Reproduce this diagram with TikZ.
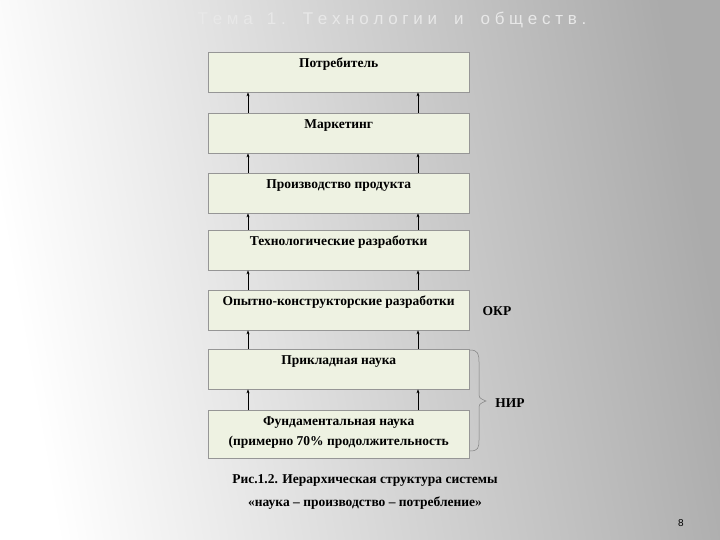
\documentclass[tikz,border=0pt]{standalone}
\usepackage{fontspec}
\setmainfont{Liberation Serif}
\newfontfamily\titlefont{Liberation Sans}
\usetikzlibrary{arrows.meta}
\definecolor{boxfill}{RGB}{238,242,226}
\definecolor{boxline}{RGB}{150,150,150}
\definecolor{titlegray}{RGB}{232,232,232}
\newcommand{\tl}{\rule{0pt}{15pt}}
\begin{document}
\begin{tikzpicture}[x=1pt,y=-1pt,
  lvl/.style={draw=boxline,fill=boxfill,minimum width=261pt,anchor=north west,inner sep=0pt,font=\bfseries\fontsize{13.5}{15}\selectfont,align=center},
  up/.style={-{Stealth[length=4pt,width=3pt]},black,line width=0.6pt},
  lab/.style={font=\bfseries\fontsize{13.5}{16}\selectfont}]
\shade[left color=white, right color=black!33, shading angle=100] (0,0) rectangle (720,540);
\useasboundingbox (0,0) rectangle (720,540);
\node[font=\titlefont\fontsize{17}{19}\selectfont,text=titlegray] (title) at (392,20) {Т\;е\;м\;а\; \;1\;.\quad Т\;е\;х\;н\;о\;л\;о\;г\;и\;и\quad и\quad о\;б\;щ\;е\;с\;т\;в\;.};
\node[lvl,minimum height=36pt] (b1) at (208,52) {\tl Потребитель\\[10pt]};
\node[lvl,minimum height=35pt] (b2) at (208,113) {\tl Маркетинг\\[10pt]};
\node[lvl,minimum height=35pt] (b3) at (208,173) {\tl Производство продукта\\[10pt]};
\node[lvl,minimum height=35pt] (b4) at (208,230) {\tl Технологические разработки\\[10pt]};
\node[lvl,minimum height=35pt] (b5) at (208,290) {\tl Опытно-конструкторские разработки\\[10pt]};
\node[lvl,minimum height=35pt] (b6) at (208,349) {\tl Прикладная наука\\[10pt]};
\node[lvl,minimum height=43pt] (b7) at (208,410) {\tl Фундаментальная наука\\[5pt](примерно 70\% продолжительность\\[-2pt]};
\foreach \a/\b in {b2/b1,b3/b2,b4/b3,b5/b4,b6/b5,b7/b6}{
  \draw[up] (\a.north west -| 248,0) -- (\b.south west -| 248,0);
  \draw[up] (\a.north west -| 418,0) -- (\b.south west -| 418,0);
}
\node[lab] (okr) at (497,311) {ОКР};
\coordinate (bt) at (470,350);
\coordinate (bb) at (470,451);
\draw[black!50,line width=0.5pt] (bt) .. controls (478,350) and (479,354) .. (479,362) -- (479,392) .. controls (479,398) .. (486,401) .. controls (479,404) .. (479,410) -- (479,440) .. controls (479,448) and (478,451) .. (bb);
\node[lab] (nir) at (510,403) {НИР};
\node[lab] (cap1) at (365,480) {Рис.1.2. Иерархическая структура системы};
\node[lab] (cap2) at (365,503) {«наука – производство – потребление»};
\node[font=\titlefont\fontsize{10}{12}\selectfont] (pg) at (681,523) {8};
\end{tikzpicture}
\end{document}
